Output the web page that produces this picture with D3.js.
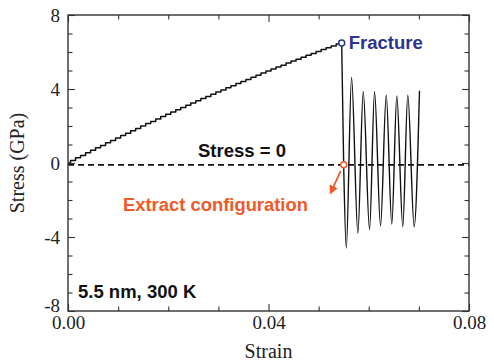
<!DOCTYPE html>
<html>
<head>
<meta charset="utf-8">
<script src="https://cdn.jsdelivr.net/npm/d3@7"></script>
<style>
  html, body { margin: 0; padding: 0; background: #fff; }
  svg { display: block; }
</style>
</head>
<body>
<svg id="chart" width="494" height="364"></svg>
<script>
// Loading branch: strain (every 0.001) and stress in GPa up to fracture
const loadStrain = [0.000,0.001,0.002,0.003,0.004,0.005,0.006,0.007,0.008,0.009,
  0.010,0.011,0.012,0.013,0.014,0.015,0.016,0.017,0.018,0.019,
  0.020,0.021,0.022,0.023,0.024,0.025,0.026,0.027,0.028,0.029,
  0.030,0.031,0.032,0.033,0.034,0.035,0.036,0.037,0.038,0.039,
  0.040,0.041,0.042,0.043,0.044,0.045,0.046,0.047,0.048,0.049,
  0.050,0.051,0.052,0.053,0.054,0.0546];
const loadStress = [0.00,0.14,0.28,0.41,0.55,0.69,0.82,0.95,1.09,1.22,
  1.35,1.48,1.61,1.74,1.87,2.00,2.13,2.25,2.38,2.51,
  2.63,2.76,2.88,3.00,3.12,3.24,3.36,3.48,3.60,3.72,
  3.84,3.95,4.07,4.18,4.30,4.41,4.52,4.64,4.75,4.86,
  4.97,5.08,5.19,5.29,5.40,5.51,5.61,5.72,5.82,5.92,
  6.03,6.13,6.23,6.33,6.43,6.49];

// Post-fracture branch: fracture point, then stress oscillation extrema
const oscStrain = [0.0546,0.0550,0.05552,0.05657,0.05783,0.05890,0.06016,0.06116,
  0.06235,0.06349,0.06460,0.06560,0.06679,0.06779,0.06906,0.07012];
const oscStress = [6.49,-0.10,-4.60,4.63,-3.80,3.85,-3.60,3.85,
  -3.40,3.67,-3.30,3.62,-3.44,3.67,-3.44,3.90];

// Marked points
const fracturePoint = { strain: 0.0546, stress: 6.49 };
const extractPoint = { strain: 0.0550, stress: -0.10 };
const zeroLine = -0.10;

// Axis ticks
const xTicks = [0.00, 0.04, 0.08];
const xMinor = [0.01, 0.02, 0.03, 0.05, 0.06, 0.07];
const yTicks = [-8, -4, 0, 4, 8];
const yMinor = [-7, -6, -5, -3, -2, -1, 1, 2, 3, 5, 6, 7];

const svg = d3.select("#chart");
const plotLeft = 68, plotRight = 469, plotTop = 15, plotBottom = 311;

const x = d3.scaleLinear().domain([0, 0.08]).range([plotLeft, plotRight]);
const y = d3.scaleLinear().domain([-8, 8]).range([plotBottom, plotTop]);

const serif = "'Liberation Serif', 'Times New Roman', serif";
const sans = "'Liberation Sans', Arial, sans-serif";
const frameColor = "#333";

// Zero-stress reference line
svg.append("line")
  .attr("x1", x(0)).attr("x2", x(0.08))
  .attr("y1", y(zeroLine)).attr("y2", y(zeroLine))
  .attr("stroke", "#111").attr("stroke-width", 1.6)
  .attr("stroke-dasharray", "6,4");

// Loading curve drawn as small steps
const loadData = loadStrain.map((s, i) => [s, loadStress[i]]);
svg.append("path")
  .datum(loadData)
  .attr("fill", "none").attr("stroke", "#111").attr("stroke-width", 1.5)
  .attr("stroke-linejoin", "round")
  .attr("d", d3.line().x(d => x(d[0])).y(d => y(d[1])).curve(d3.curveStep));

// Oscillation after fracture
const oscData = oscStrain.map((s, i) => [s, oscStress[i]]);
svg.append("path")
  .datum(oscData)
  .attr("fill", "none").attr("stroke", "#111").attr("stroke-width", 1.4)
  .attr("d", d3.line().x(d => x(d[0])).y(d => y(d[1])).curve(d3.curveMonotoneX));

// Axes with inward ticks on all four sides
function axisGroup(axis, tx, ty) {
  const g = svg.append("g").attr("transform", `translate(${tx},${ty})`).call(axis);
  g.select(".domain").remove();
  g.selectAll(".tick line").attr("stroke", frameColor).attr("stroke-width", 1.1);
  return g;
}
// major
const xb = axisGroup(d3.axisBottom(x).tickValues(xTicks).tickSize(-7).tickFormat(d3.format(".2f")), 0, plotBottom);
xb.selectAll("text").attr("font-family", serif).attr("font-size", 19).attr("fill", "#222")
  .attr("y", 5).attr("dy", "0.71em");
axisGroup(d3.axisTop(x).tickValues(xTicks).tickSize(-7).tickFormat(""), 0, plotTop);
const yl = axisGroup(d3.axisLeft(y).tickValues(yTicks).tickSize(-7).tickFormat(d3.format("d")), plotLeft, 0);
yl.selectAll("text").attr("font-family", serif).attr("font-size", 19).attr("fill", "#222")
  .attr("x", -8).attr("dy", "0.35em").text(d => d === -8 ? "-8" : d)
  .filter(d => d === -8).attr("dy", "0.02em");
axisGroup(d3.axisRight(y).tickValues(yTicks).tickSize(-7).tickFormat(""), plotRight, 0);
// minor
axisGroup(d3.axisBottom(x).tickValues(xMinor).tickSize(-4.5).tickFormat(""), 0, plotBottom);
axisGroup(d3.axisTop(x).tickValues(xMinor).tickSize(-4.5).tickFormat(""), 0, plotTop);
axisGroup(d3.axisLeft(y).tickValues(yMinor).tickSize(-4.5).tickFormat(""), plotLeft, 0);
axisGroup(d3.axisRight(y).tickValues(yMinor).tickSize(-4.5).tickFormat(""), plotRight, 0);

// Frame
svg.append("rect")
  .attr("x", plotLeft).attr("y", plotTop).attr("width", plotRight - plotLeft).attr("height", plotBottom - plotTop)
  .attr("fill", "none").attr("stroke", frameColor).attr("stroke-width", 1.4);

// Axis titles
svg.append("text")
  .attr("x", (plotLeft + plotRight) / 2).attr("y", 358)
  .attr("text-anchor", "middle").attr("font-family", serif).attr("font-size", 20).attr("fill", "#222")
  .text("Strain");
svg.append("text")
  .attr("transform", `translate(24,${(plotTop + plotBottom) / 2}) rotate(-90)`)
  .attr("text-anchor", "middle").attr("font-family", serif).attr("font-size", 20).attr("fill", "#222")
  .text("Stress (GPa)");

// Fracture marker and label
const blue = "#2b3590";
svg.append("circle")
  .attr("cx", x(fracturePoint.strain)).attr("cy", y(fracturePoint.stress)).attr("r", 3)
  .attr("fill", "#fff").attr("stroke", blue).attr("stroke-width", 1.5);
svg.append("text")
  .attr("x", x(fracturePoint.strain) + 7).attr("y", y(fracturePoint.stress) + 6)
  .attr("font-family", sans).attr("font-weight", "bold").attr("font-size", 18.5).attr("fill", blue)
  .text("Fracture");

// Stress = 0 label
svg.append("text")
  .attr("x", 198).attr("y", 157)
  .attr("font-family", sans).attr("font-weight", "bold").attr("font-size", 18.5).attr("fill", "#111")
  .text("Stress = 0");

// Extract configuration marker, arrow and label
const orange = "#f05a28";
const defs = svg.append("defs");
defs.append("marker")
  .attr("id", "arrowHead").attr("viewBox", "0 0 10 10").attr("refX", 8).attr("refY", 5)
  .attr("markerWidth", 5).attr("markerHeight", 5).attr("orient", "auto")
  .append("path").attr("d", "M0,0 L10,5 L0,10 z").attr("fill", orange);
const ex = x(extractPoint.strain), ey = y(extractPoint.stress);
svg.append("line")
  .attr("x1", ex - 3).attr("y1", ey + 6).attr("x2", ex - 13).attr("y2", ey + 28)
  .attr("stroke", orange).attr("stroke-width", 1.8).attr("marker-end", "url(#arrowHead)");
svg.append("circle")
  .attr("cx", ex).attr("cy", ey).attr("r", 3)
  .attr("fill", "#fff").attr("stroke", orange).attr("stroke-width", 1.5);
svg.append("text")
  .attr("x", 123).attr("y", 211)
  .attr("font-family", sans).attr("font-weight", "bold").attr("font-size", 18.4).attr("fill", orange)
  .text("Extract configuration");

// Specimen label
svg.append("text")
  .attr("x", 78).attr("y", 298)
  .attr("font-family", sans).attr("font-weight", "bold").attr("font-size", 18.5).attr("fill", "#111")
  .text("5.5 nm, 300 K");
</script>
</body>
</html>
